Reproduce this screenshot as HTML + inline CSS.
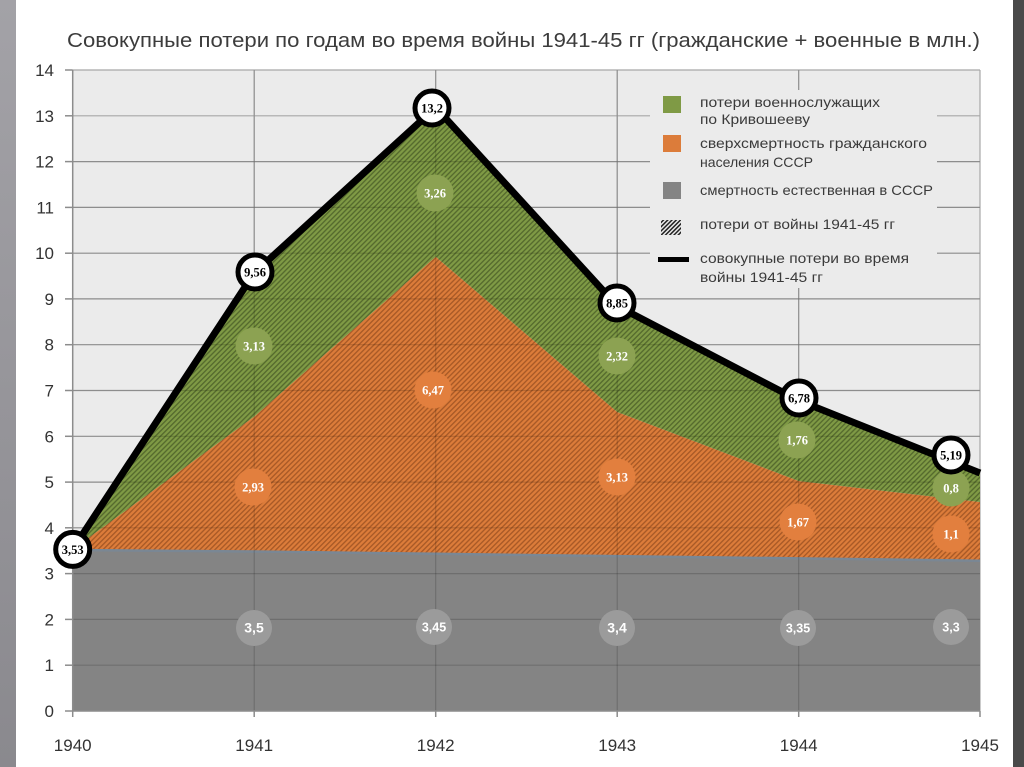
<!DOCTYPE html>
<html><head><meta charset="utf-8"><style>
html,body{margin:0;padding:0;background:#fff;}
svg{display:block;}
</style></head><body>
<svg width="1024" height="767" viewBox="0 0 1024 767" xmlns="http://www.w3.org/2000/svg" font-family="'Liberation Sans', 'DejaVu Sans', sans-serif">
<defs>
<linearGradient id="lg" x1="0" y1="0" x2="0" y2="1">
<stop offset="0" stop-color="#a3a2a7"/><stop offset="1" stop-color="#8a898e"/>
</linearGradient>
<pattern id="hg" width="3.6" height="3.6" patternUnits="userSpaceOnUse" patternTransform="rotate(45)">
<rect width="3.6" height="3.6" fill="#7f9a45"/>
<rect width="1.4" height="3.6" fill="#566b2e"/>
</pattern>
<pattern id="ho" width="3.6" height="3.6" patternUnits="userSpaceOnUse" patternTransform="rotate(45)">
<rect width="3.6" height="3.6" fill="#dc7c3a"/>
<rect width="1.4" height="3.6" fill="#a95a27"/>
</pattern>
<pattern id="hi" width="3" height="3" patternUnits="userSpaceOnUse" patternTransform="rotate(45)">
<rect width="3" height="3" fill="#ebebeb"/>
<rect width="1.5" height="3" fill="#222"/>
</pattern>
</defs>
<rect x="0" y="0" width="1024" height="767" fill="#fff"/>
<rect x="0" y="0" width="16" height="767" fill="url(#lg)"/>
<rect x="1013" y="0" width="11" height="767" fill="#4a4a4a"/>

<text x="67" y="47" font-size="20.5" fill="#3c3c3c" textLength="913" lengthAdjust="spacingAndGlyphs" font-family="'Liberation Sans', 'DejaVu Sans', sans-serif">Совокупные потери по годам во время войны 1941-45 гг (гражданские + военные в млн.)</text>

<!-- plot background -->
<rect x="72.7" y="70" width="907.3" height="641" fill="#ebebeb"/>
<!-- base gridlines -->
<g stroke="#a8a8a8" stroke-width="1.2">
<line x1="72.7" y1="70" x2="980" y2="70"/>
<line x1="72.7" y1="115.8" x2="980" y2="115.8"/>
<line x1="72.7" y1="161.6" x2="980" y2="161.6"/>
<line x1="72.7" y1="207.4" x2="980" y2="207.4"/>
<line x1="72.7" y1="253.2" x2="980" y2="253.2"/>
<line x1="72.7" y1="298.9" x2="980" y2="298.9"/>
<line x1="72.7" y1="344.7" x2="980" y2="344.7"/>
<line x1="72.7" y1="390.5" x2="980" y2="390.5"/>
<line x1="72.7" y1="436.3" x2="980" y2="436.3"/>
<line x1="72.7" y1="482.1" x2="980" y2="482.1"/>
<line x1="72.7" y1="527.8" x2="980" y2="527.8"/>
<line x1="72.7" y1="573.6" x2="980" y2="573.6"/>
<line x1="72.7" y1="619.4" x2="980" y2="619.4"/>
<line x1="72.7" y1="665.2" x2="980" y2="665.2"/>
<line x1="254.2" y1="70" x2="254.2" y2="711"/>
<line x1="435.7" y1="70" x2="435.7" y2="711"/>
<line x1="617.2" y1="70" x2="617.2" y2="711"/>
<line x1="798.7" y1="70" x2="798.7" y2="711"/>
<line x1="980" y1="70" x2="980" y2="711"/>
</g>

<!-- areas -->
<polygon fill="#848484" points="72.7,711 72.7,549.4 254.2,550.7 435.7,553 617.2,555.3 798.7,557.6 980,559.9 980,711"/>
<polygon fill="url(#ho)" points="72.7,549.4 254.2,416.6 435.7,256.8 617.2,412 798.7,481 980,502 980,559.9 798.7,557.6 617.2,555.3 435.7,553 254.2,550.7"/>
<polygon fill="url(#hg)" points="72.7,549.4 254.2,273 435.7,107.5 617.2,306 798.7,400.5 980,473 980,502 798.7,481 617.2,412 435.7,256.8 254.2,416.6"/>
<polyline fill="none" stroke="#7a8794" stroke-width="2.5" points="72.7,550 254.2,551.5 435.7,553.8 617.2,556.1 798.7,558.4 980,560.7"/>

<!-- overlay gridlines in areas -->
<g stroke="#000" stroke-opacity="0.16" stroke-width="1.2">
<line x1="72.7" y1="527.8" x2="980" y2="527.8"/>
<line x1="72.7" y1="573.6" x2="980" y2="573.6"/>
<line x1="72.7" y1="619.4" x2="980" y2="619.4"/>
<line x1="72.7" y1="665.2" x2="980" y2="665.2"/>
<line x1="72.7" y1="482.1" x2="980" y2="482.1"/>
<line x1="72.7" y1="436.3" x2="980" y2="436.3"/>
<line x1="72.7" y1="390.5" x2="980" y2="390.5"/>
<line x1="72.7" y1="344.7" x2="980" y2="344.7"/>
<line x1="72.7" y1="298.9" x2="980" y2="298.9"/>
<line x1="72.7" y1="253.2" x2="980" y2="253.2"/>
<line x1="72.7" y1="207.4" x2="980" y2="207.4"/>
<line x1="72.7" y1="161.6" x2="980" y2="161.6"/>
<line x1="254.2" y1="70" x2="254.2" y2="711"/>
<line x1="435.7" y1="70" x2="435.7" y2="711"/>
<line x1="617.2" y1="70" x2="617.2" y2="711"/>
<line x1="798.7" y1="70" x2="798.7" y2="711"/>
</g>

<!-- axes -->
<g stroke="#8c8c8c" stroke-width="1.5">
<line x1="72.7" y1="70" x2="72.7" y2="711"/>
<line x1="72.7" y1="711" x2="980" y2="711"/>
<line x1="65" y1="70" x2="72.7" y2="70"/>
<line x1="65" y1="115.8" x2="72.7" y2="115.8"/>
<line x1="65" y1="161.6" x2="72.7" y2="161.6"/>
<line x1="65" y1="207.4" x2="72.7" y2="207.4"/>
<line x1="65" y1="253.2" x2="72.7" y2="253.2"/>
<line x1="65" y1="298.9" x2="72.7" y2="298.9"/>
<line x1="65" y1="344.7" x2="72.7" y2="344.7"/>
<line x1="65" y1="390.5" x2="72.7" y2="390.5"/>
<line x1="65" y1="436.3" x2="72.7" y2="436.3"/>
<line x1="65" y1="482.1" x2="72.7" y2="482.1"/>
<line x1="65" y1="527.8" x2="72.7" y2="527.8"/>
<line x1="65" y1="573.6" x2="72.7" y2="573.6"/>
<line x1="65" y1="619.4" x2="72.7" y2="619.4"/>
<line x1="65" y1="665.2" x2="72.7" y2="665.2"/>
<line x1="65" y1="711" x2="72.7" y2="711"/>
<line x1="72.7" y1="711" x2="72.7" y2="717"/>
<line x1="254.2" y1="711" x2="254.2" y2="717"/>
<line x1="435.7" y1="711" x2="435.7" y2="717"/>
<line x1="617.2" y1="711" x2="617.2" y2="717"/>
<line x1="798.7" y1="711" x2="798.7" y2="717"/>
<line x1="980" y1="711" x2="980" y2="717"/>
</g>

<!-- y labels -->
<g font-size="17" fill="#333" text-anchor="end">
<text x="54" y="76">14</text>
<text x="54" y="121.8">13</text>
<text x="54" y="167.6">12</text>
<text x="54" y="213.4">11</text>
<text x="54" y="259.2">10</text>
<text x="54" y="304.9">9</text>
<text x="54" y="350.7">8</text>
<text x="54" y="396.5">7</text>
<text x="54" y="442.3">6</text>
<text x="54" y="488.1">5</text>
<text x="54" y="533.8">4</text>
<text x="54" y="579.6">3</text>
<text x="54" y="625.4">2</text>
<text x="54" y="671.2">1</text>
<text x="54" y="717">0</text>
</g>
<!-- x labels -->
<g font-size="17" fill="#333" text-anchor="middle">
<text x="72.7" y="751">1940</text>
<text x="254.2" y="751">1941</text>
<text x="435.7" y="751">1942</text>
<text x="617.2" y="751">1943</text>
<text x="798.7" y="751">1944</text>
<text x="980" y="751">1945</text>
</g>

<!-- legend -->
<rect x="650" y="90" width="287" height="198" fill="#ebebeb"/>
<rect x="663" y="96" width="18" height="17" fill="#7f9a45"/>
<rect x="663" y="135" width="18" height="17" fill="#dc7c3a"/>
<rect x="663" y="182" width="18" height="17" fill="#848484"/>
<rect x="661" y="220" width="20" height="15" fill="url(#hi)"/>
<rect x="658" y="257" width="31" height="5" fill="#000"/>
<g font-size="14" fill="#3a3a3a">
<text x="700" y="107" textLength="180" lengthAdjust="spacingAndGlyphs">потери военнослужащих</text>
<text x="700" y="124" textLength="110" lengthAdjust="spacingAndGlyphs">по Кривошееву</text>
<text x="700" y="148" textLength="227" lengthAdjust="spacingAndGlyphs">сверхсмертность гражданского</text>
<text x="700" y="167" textLength="113" lengthAdjust="spacingAndGlyphs">населения СССР</text>
<text x="700" y="195" textLength="233" lengthAdjust="spacingAndGlyphs">смертность естественная в СССР</text>
<text x="700" y="229" textLength="195" lengthAdjust="spacingAndGlyphs">потери от войны 1941-45 гг</text>
<text x="700" y="263" textLength="209" lengthAdjust="spacingAndGlyphs">совокупные потери во время</text>
<text x="700" y="282" textLength="123" lengthAdjust="spacingAndGlyphs">войны 1941-45 гг</text>
</g>

<!-- total line -->
<polyline fill="none" stroke="#000" stroke-width="7" stroke-linejoin="miter" points="72.7,549.4 254.2,273 435.7,107.5 617.2,306 798.7,400.5 980,473"/>

<!-- value circles -->
<g font-size="12.5" font-weight="bold" fill="#fff" text-anchor="middle" font-family="'Liberation Serif', 'DejaVu Serif', serif">
<g fill="#8ca252">
<circle cx="254" cy="346" r="18.5"/>
<circle cx="435" cy="193" r="18.5"/>
<circle cx="617" cy="356" r="18.5"/>
<circle cx="797" cy="440" r="18.5"/>
<circle cx="951" cy="488" r="18.5"/>
</g>
<g fill="#e27f3e">
<circle cx="253" cy="487" r="18.5"/>
<circle cx="433" cy="390" r="18.5"/>
<circle cx="617" cy="477" r="18.5"/>
<circle cx="798" cy="522" r="18.5"/>
<circle cx="951" cy="534" r="18.5"/>
</g>
<g fill="#9b9b9b">
<circle cx="254" cy="628" r="18"/>
<circle cx="434" cy="627" r="18"/>
<circle cx="617" cy="628" r="18"/>
<circle cx="798" cy="628" r="18"/>
<circle cx="951" cy="627" r="18"/>
</g>
<text x="254" y="350.5">3,13</text>
<text x="435" y="197.5">3,26</text>
<text x="617" y="360.5">2,32</text>
<text x="797" y="444.5">1,76</text>
<text x="951" y="492.5">0,8</text>
<text x="253" y="491.5">2,93</text>
<text x="433" y="394.5">6,47</text>
<text x="617" y="481.5">3,13</text>
<text x="798" y="526.5">1,67</text>
<text x="951" y="538.5">1,1</text>
<text x="254" y="632.5" font-size="14" font-family="'Liberation Sans', sans-serif">3,5</text>
<text x="434" y="631.5" font-family="'Liberation Sans', sans-serif">3,45</text>
<text x="617" y="632.5" font-size="14" font-family="'Liberation Sans', sans-serif">3,4</text>
<text x="798" y="632.5" font-family="'Liberation Sans', sans-serif">3,35</text>
<text x="951" y="631.5" font-family="'Liberation Sans', sans-serif">3,3</text>
</g>

<!-- total circles -->
<g fill="#fff" stroke="#000" stroke-width="5">
<circle cx="72.7" cy="549.4" r="17"/>
<circle cx="255" cy="272" r="17"/>
<circle cx="432" cy="108" r="17"/>
<circle cx="617" cy="303" r="17"/>
<circle cx="799" cy="398" r="17"/>
<circle cx="951" cy="455" r="17"/>
</g>
<g font-size="12.5" font-weight="bold" fill="#000" text-anchor="middle" font-family="'Liberation Serif', 'DejaVu Serif', serif">
<text x="72.7" y="553.9">3,53</text>
<text x="255" y="276.5">9,56</text>
<text x="432" y="112.5">13,2</text>
<text x="617" y="307.5">8,85</text>
<text x="799" y="402.5">6,78</text>
<text x="951" y="459.5">5,19</text>
</g>
</svg>
</body></html>
